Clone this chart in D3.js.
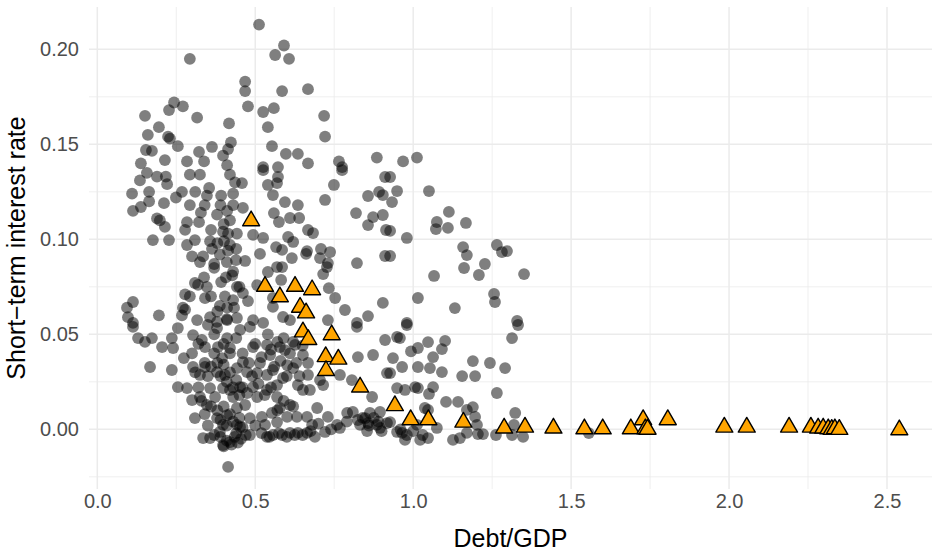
<!DOCTYPE html>
<html>
<head>
<meta charset="utf-8">
<script src="https://cdn.jsdelivr.net/npm/d3@7"></script>
<style>
  body { margin: 0; background: #fff; }
  svg { display: block; font-family: "Liberation Sans", Arial, sans-serif; }
</style>
</head>
<body>
<div id="vis"></div>
<script>
// debt/GDP vs short-term rate, grey = all observations, orange = highlighted country
const xTicks = [0, 0.5, 1, 1.5, 2, 2.5];
const xMinor = [0.25, 0.75, 1.25, 1.75, 2.25];
const yTicks = [0, 0.05, 0.1, 0.15, 0.2];
const yMinor = [-0.025, 0.025, 0.075, 0.125, 0.175];

const greyPts = [
  [0.512,0.213],[0.591,0.202],[0.563,0.197],[0.607,0.195],[0.468,0.183],[0.468,0.178],[0.585,0.178],[0.667,0.179],
  [0.477,0.170],[0.525,0.167],[0.559,0.169],[0.540,0.159],[0.718,0.165],[0.721,0.154],[0.553,0.149],[0.597,0.145],
  [0.635,0.145],[0.667,0.140],[0.765,0.141],[0.775,0.138],[0.885,0.143],[0.525,0.138],[0.572,0.138],
  [0.293,0.195],[0.243,0.172],[0.271,0.170],[0.227,0.168],[0.151,0.165],[0.316,0.164],[0.195,0.159],[0.417,0.161],
  [0.160,0.155],[0.224,0.154],[0.230,0.153],[0.423,0.151],[0.255,0.149],[0.154,0.147],[0.173,0.1465],[0.363,0.1486],
  [0.414,0.1475],[0.322,0.146],[0.338,0.141],[0.398,0.144],[0.138,0.140],[0.214,0.1417],[0.284,0.141],[0.411,0.139],
  [0.968,0.141],[1.012,0.143],
  [0.157,0.135],[0.135,0.131],[0.189,0.133],[0.217,0.133],[0.221,0.129],[0.293,0.134],[0.325,0.134],[0.420,0.134],
  [0.436,0.130],[0.110,0.124],[0.164,0.125],[0.164,0.120],[0.113,0.115],[0.138,0.117],[0.211,0.119],[0.249,0.122],
  [0.268,0.125],[0.293,0.118],[0.328,0.114],[0.354,0.127],[0.347,0.123],[0.392,0.123],[0.430,0.124],[0.411,0.115],
  [0.379,0.113],[0.430,0.118],[0.189,0.111],[0.198,0.110],[0.214,0.1065],[0.284,0.109],[0.278,0.105],[0.322,0.109],
  [0.398,0.104],[0.414,0.103],[0.442,0.103],[0.176,0.0996],[0.227,0.0996],[0.309,0.0996],[0.284,0.097],[0.357,0.099],
  [0.363,0.095],[0.401,0.099],[0.414,0.094],[0.388,0.092],[0.300,0.091],[0.335,0.091],[0.325,0.088],[0.370,0.087],
  [0.439,0.089],[0.420,0.097],[0.309,0.077],[0.338,0.080],[0.347,0.075],[0.319,0.076],[0.392,0.0775],[0.407,0.080],
  [0.427,0.081],[0.442,0.075],[0.113,0.067],[0.094,0.064],[0.097,0.059],[0.113,0.056],[0.195,0.060],[0.278,0.071],
  [0.293,0.070],[0.341,0.069],[0.271,0.064],[0.278,0.063],[0.268,0.060],[0.316,0.0575],[0.404,0.070],[0.388,0.065],
  [0.411,0.064],[0.433,0.064],[0.357,0.059],[0.379,0.0565],[0.411,0.0575],[0.442,0.0586],
  [0.458,0.1296],[0.525,0.1364],[0.540,0.1286],[0.572,0.1328],[0.569,0.1296],[0.556,0.1233],[0.594,0.1196],[0.635,0.118],
  [0.461,0.1165],[0.559,0.1138],[0.575,0.1091],[0.610,0.1112],[0.639,0.1112],[0.749,0.1286],[0.721,0.1207],[0.775,0.1364],
  [0.911,0.1328],[0.892,0.125],[0.904,0.1233],[0.857,0.1228],[0.819,0.1138],[0.873,0.1117],[0.857,0.1075],[0.904,0.1128],
  [0.914,0.1049],[0.667,0.1049],[0.683,0.1033],[0.493,0.1023],[0.525,0.1007],[0.604,0.1012],[0.620,0.0986],[0.566,0.0959],
  [0.585,0.0944],[0.515,0.0923],[0.664,0.0938],[0.661,0.0923],[0.708,0.0949],[0.737,0.0933],[0.705,0.0901],[0.730,0.0875],
  [0.727,0.0854],[0.616,0.0901],[0.822,0.0875],[0.911,0.0912],[0.468,0.0886],[0.569,0.0854],[0.585,0.0854],[0.540,0.0828],
  [0.715,0.0817],[0.582,0.0786],[0.506,0.0759],[0.733,0.0743],[0.753,0.0691],[0.461,0.0717],[0.477,0.0675],[0.556,0.0691],
  [0.784,0.0628],[0.904,0.0665],[0.857,0.0596],[0.822,0.056],[0.730,0.0575],[0.556,0.0644],[0.588,0.0591],[0.610,0.0575],
  [0.493,0.0575],[0.525,0.056],
  [0.927,0.1328],[0.949,0.1254],[0.933,0.1196],[0.927,0.1044],[1.050,0.1254],[1.113,0.1144],[1.075,0.1091],[1.072,0.1054],
  [1.110,0.106],[1.167,0.1086],[0.980,0.1007],[1.158,0.0959],[1.170,0.0917],[1.161,0.0849],[1.227,0.087],[1.208,0.0812],
  [1.265,0.097],[1.281,0.0933],[1.297,0.0938],[1.351,0.0817],[1.066,0.0807],[0.927,0.0912],[1.015,0.0691],[1.132,0.0638],
  [1.256,0.0712],[1.259,0.067],[1.329,0.057],[0.980,0.056],
  [0.980,0.0549],[0.958,0.048],[0.949,0.0486],[0.936,0.0375],[0.965,0.0328],[1.047,0.0459],[1.101,0.0465],[1.015,0.0428],
  [0.993,0.041],[1.063,0.038],[1.091,0.0422],[1.015,0.0328],[1.053,0.0322],[1.091,0.0301],[1.189,0.0359],[1.243,0.0349],
  [1.291,0.0322],[1.155,0.028],[1.196,0.028],[1.313,0.048],[1.332,0.0549],[0.927,0.0296],[0.949,0.0217],[0.974,0.0207],
  [1.006,0.0222],[1.015,0.0217],[1.063,0.0222],[1.050,0.0186],[1.265,0.0191],[1.104,0.0144],[1.142,0.0144],[1.189,0.0117],
  [1.170,0.0102],[1.196,0.0065],[1.202,0.0023],[1.037,0.0112],[1.047,0.0102],[0.927,0.0038],[0.949,-0.0014],[0.974,-0.0056],
  [0.965,-0.0019],[1.012,0.0023],[1.022,-0.0056],[1.047,-0.0046],[1.075,0.0007],[1.126,-0.0056],[1.148,-0.0046],[1.170,-0.0019],
  [1.205,-0.0025],[1.221,-0.0025],[1.262,-0.003],[1.323,0.0086],[1.319,0.0023],[1.348,-0.004],[1.313,-0.003],[1.556,-0.002],
  [0.113,0.0539],[0.129,0.048],[0.151,0.046],[0.173,0.048],[0.205,0.0433],[0.236,0.048],[0.240,0.0428],[0.255,0.0533],
  [0.167,0.0328],[0.236,0.0312],[0.274,0.0375],[0.303,0.0496],[0.331,0.047],[0.341,0.0433],[0.379,0.0533],[0.411,0.048],
  [0.420,0.0428],[0.382,0.0433],[0.303,0.0328],[0.325,0.0286],[0.341,0.0328],[0.255,0.0222],[0.284,0.0217],[0.300,0.0154],
  [0.325,0.017],[0.347,0.0128],[0.309,0.0059],[0.357,0.0217],[0.373,0.017],[0.398,0.0217],[0.420,0.0207],[0.430,0.017],
  [0.379,0.0059],[0.398,0.0023],[0.335,-0.0046],[0.357,-0.0046],[0.388,-0.0014],[0.398,-0.0083],[0.420,-0.0067],[0.414,-0.0198],
  [0.411,0.0075],[0.442,0.0023],[0.442,0.0112],[0.404,0.0286],[0.442,0.0322],[0.379,0.0301],[0.395,0.0375],
  [0.452,0.0523],[0.483,0.0539],[0.493,0.0433],[0.537,0.0444],[0.578,0.0433],[0.594,0.0417],[0.547,0.0391],[0.626,0.0444],
  [0.651,0.0391],[0.601,0.0338],[0.620,0.0322],[0.667,0.0349],[0.667,0.0286],[0.588,0.027],[0.556,0.0312],[0.515,0.0349],
  [0.461,0.0354],[0.474,0.0301],[0.506,0.0296],[0.537,0.0286],[0.452,0.0222],[0.493,0.0222],[0.474,0.0191],[0.506,0.017],
  [0.537,0.0207],[0.569,0.0233],[0.635,0.0233],[0.651,0.0207],[0.673,0.0207],[0.715,0.0233],[0.705,0.0259],[0.768,0.0286],
  [0.806,0.0259],[0.825,0.038],[0.873,0.0391],[0.911,0.047],[0.917,0.0296],[0.822,0.0539],[0.870,0.017],[0.569,0.017],
  [0.610,0.0128],[0.578,0.0112],[0.553,0.0086],[0.468,0.0128],[0.483,0.0059],[0.452,0.0012],[0.521,0.0065],[0.531,0.0023],
  [0.569,0.0038],[0.601,0.0065],[0.632,0.0065],[0.664,0.0065],[0.680,0.0023],[0.696,0.0112],[0.730,0.0065],[0.759,0.0023],
  [0.721,-0.0014],[0.689,-0.004],[0.664,-0.0019],[0.635,-0.0019],[0.610,-0.0019],[0.585,-0.003],[0.556,-0.003],[0.537,-0.004],
  [0.483,-0.003],[0.768,0.0007],[0.791,0.0086],[0.809,0.0091],[0.825,0.0049],[0.848,0.0059],[0.863,0.0086],[0.857,0.0033],
  [0.832,0.0023],[0.885,0.0023],[0.895,0.0091],[0.917,0.0033],[0.854,-0.0009],[0.895,0.0007],
  // dense clusters, estimated
  [0.34,0.035],[0.35,0.028],[0.36,0.033],[0.37,0.040],[0.38,0.035],[0.39,0.028],[0.40,0.034],[0.41,0.025],
  [0.42,0.030],[0.43,0.022],[0.44,0.026],[0.45,0.018],[0.46,0.022],[0.36,0.012],[0.38,0.010],[0.39,0.005],
  [0.40,0.012],[0.41,0.002],[0.42,0.008],[0.43,0.004],[0.44,-0.002],[0.45,0.006],[0.46,0.001],[0.47,-0.003],
  [0.39,-0.004],[0.40,-0.009],[0.41,-0.006],[0.425,-0.008],[0.435,-0.004],[0.445,-0.007],[0.455,-0.005],[0.37,-0.003],
  [0.35,0.002],[0.34,0.008],[0.33,0.015],[0.32,0.022],[0.31,0.030],[0.30,0.040],[0.32,0.045],[0.35,0.055],
  [0.37,0.050],[0.40,0.045],[0.42,0.040],[0.44,0.048],[0.46,0.040],[0.38,0.062],[0.41,0.058],[0.43,0.068],
  [0.45,0.075],[0.36,0.070],
  [0.50,0.045],[0.52,0.038],[0.54,0.050],[0.55,0.042],[0.56,0.033],[0.57,0.046],[0.58,0.036],[0.59,0.048],
  [0.60,0.028],[0.61,0.040],[0.62,0.046],[0.63,0.035],[0.64,0.028],[0.65,0.044],[0.48,0.035],[0.49,0.028],
  [0.51,0.024],[0.53,0.018],[0.55,0.022],[0.57,0.010],[0.59,0.015],[0.62,0.012],
  [0.50,0.002],[0.52,-0.002],[0.545,-0.004],[0.575,-0.002],[0.60,-0.004],[0.625,-0.003],[0.65,-0.003],[0.675,-0.001],
  [0.70,0.003],[0.74,0.0],[0.79,0.004],[0.84,0.006],[0.86,0.002],[0.875,0.006],[0.89,0.004],[0.90,-0.001],
  [0.96,0.0],[0.98,-0.003],[1.00,-0.001],[1.03,-0.003],
  [0.36,0.105],[0.38,0.098],[0.40,0.108],[0.42,0.11],[0.44,0.095],[0.37,0.085],[0.41,0.088],[0.43,0.083],
  [0.39,0.118],[0.34,0.118],[0.31,0.125]
];

const orangePts = [
  [0.487,0.1105],[0.531,0.076],[0.578,0.0705],[0.626,0.076],[0.680,0.0742],[0.642,0.065],[0.661,0.062],[0.651,0.052],
  [0.668,0.048],[0.742,0.0505],[0.723,0.039],[0.763,0.0377],[0.724,0.0317],[0.832,0.023],[0.942,0.0132],[0.992,0.0058],
  [1.048,0.0058],[1.159,0.0045],[1.288,0.0014],[1.354,0.0019],[1.444,0.0014],[1.542,0.001],[1.600,0.001],[1.689,0.001],
  [1.728,0.0058],[1.735,0.001],[1.742,0.0008],[1.806,0.0058],[1.985,0.0019],[2.056,0.0019],[2.190,0.0019],[2.259,0.0019],
  [2.282,0.0014],[2.298,0.0014],[2.314,0.001],[2.325,0.0007],[2.335,0.001],[2.349,0.0007],[2.539,0.0005]
];

const W = 939, H = 552;
const panel = { left: 89, right: 932, top: 7, bottom: 489 };

const svg = d3.select('#vis').append('svg').attr('width', W).attr('height', H);

// scales pinned to the tick positions of the original
const x = d3.scaleLinear().domain([0, 2.5]).range([97.3, 887]);
const y = d3.scaleLinear().domain([0, 0.2]).range([429.3, 49.3]);

const grid = svg.append('g');
grid.selectAll('.ymin').data(yMinor).join('line')
  .attr('x1', panel.left).attr('x2', panel.right)
  .attr('y1', d => y(d)).attr('y2', d => y(d))
  .attr('stroke', '#ebebeb').attr('stroke-width', 0.8);
grid.selectAll('.xmin').data(xMinor).join('line')
  .attr('y1', panel.top).attr('y2', panel.bottom)
  .attr('x1', d => x(d)).attr('x2', d => x(d))
  .attr('stroke', '#ebebeb').attr('stroke-width', 0.8);
grid.selectAll('.ymaj').data(yTicks).join('line')
  .attr('x1', panel.left).attr('x2', panel.right)
  .attr('y1', d => y(d)).attr('y2', d => y(d))
  .attr('stroke', '#ebebeb').attr('stroke-width', 1.5);
grid.selectAll('.xmaj').data(xTicks).join('line')
  .attr('y1', panel.top).attr('y2', panel.bottom)
  .attr('x1', d => x(d)).attr('x2', d => x(d))
  .attr('stroke', '#ebebeb').attr('stroke-width', 1.5);

svg.append('g').selectAll('circle')
  .data(greyPts)
  .join('circle')
  .attr('cx', d => x(d[0]))
  .attr('cy', d => y(d[1]))
  .attr('r', 5.9)
  .attr('fill', 'black')
  .attr('fill-opacity', 0.5);

const tri = d3.symbol().type(d3.symbolTriangle).size(125);
svg.append('g').selectAll('path')
  .data(orangePts)
  .join('path')
  .attr('transform', d => `translate(${x(d[0])},${y(d[1]) + 1.5})`)
  .attr('d', tri)
  .attr('fill', '#FFA500')
  .attr('stroke', 'black')
  .attr('stroke-width', 1.4)
  .attr('stroke-linejoin', 'round');

// axes (no lines, only labels)
const xAxis = svg.append('g')
  .attr('transform', `translate(0,${panel.bottom})`)
  .call(d3.axisBottom(x).tickValues(xTicks).tickFormat(d3.format('.1f')).tickSize(0).tickPadding(5));
const yAxis = svg.append('g')
  .attr('transform', `translate(${panel.left},0)`)
  .call(d3.axisLeft(y).tickValues(yTicks).tickFormat(d3.format('.2f')).tickSize(0).tickPadding(10));
[xAxis, yAxis].forEach(g => {
  g.select('.domain').remove();
  g.selectAll('text')
    .style('font-size', '20px')
    .style('font-family', '"Liberation Sans", Arial, sans-serif')
    .attr('fill', '#4d4d4d');
});

svg.append('text')
  .attr('x', (panel.left + panel.right) / 2)
  .attr('y', 547)
  .style('text-anchor', 'middle')
  .style('font-size', '25px')
  .text('Debt/GDP');

svg.append('text')
  .attr('transform', `translate(25,${(panel.top + panel.bottom) / 2}) rotate(-90)`)
  .style('text-anchor', 'middle')
  .style('font-size', '25px')
  .text('Short\u2212term interest rate');
</script>
</body>
</html>
